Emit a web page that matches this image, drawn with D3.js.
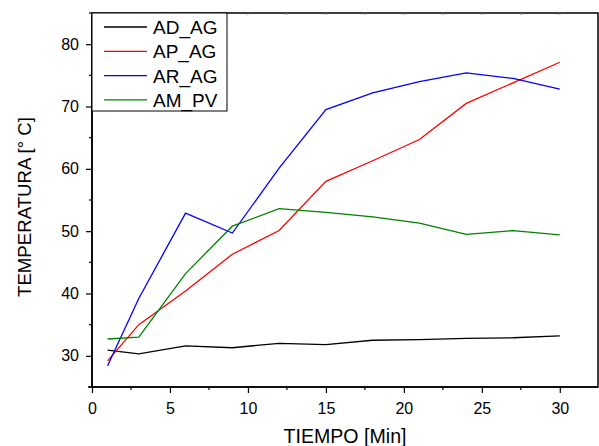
<!DOCTYPE html>
<html>
<head>
<meta charset="utf-8">
<script src="https://cdn.jsdelivr.net/npm/d3@7"></script>
<style>
  body { margin: 0; background: #fff; }
  svg { font-family: "Liberation Sans", Arial, sans-serif; }
</style>
</head>
<body>
<script>
// minutes
var tiempo = [1, 3, 6, 9, 12, 15, 18, 21, 24, 27, 30];

// temperatures (°C)
var adAg = [30.9, 30.3, 31.6, 31.3, 32.0, 31.8, 32.5, 32.6, 32.8, 32.9, 33.2];
var apAg = [29.2, 35.0, 40.4, 46.3, 50.1, 58.0, 61.3, 64.7, 70.5, 73.8, 77.1];
var arAg = [28.4, 39.2, 52.9, 49.7, 60.1, 69.5, 72.2, 74.0, 75.4, 74.5, 72.8];
var amPv = [32.7, 33.0, 43.2, 50.8, 53.6, 53.0, 52.3, 51.3, 49.5, 50.1, 49.4];

var seriesNames = ["AD_AG", "AP_AG", "AR_AG", "AM_PV"];
var seriesColors = ["#000000", "#ff0000", "#0000ff", "#008000"];
var seriesValues = [adAg, apAg, arAg, amPv];

var xTicks = [0, 5, 10, 15, 20, 25, 30];
var yTicks = [30, 40, 50, 60, 70, 80];

var svgWidth = 599, svgHeight = 446;
var margin = { top: 13, right: 1, bottom: 59, left: 92 };
var chartWidth = svgWidth - margin.left - margin.right;
var chartHeight = svgHeight - margin.top - margin.bottom;

var svg = d3.select("body").append("svg")
  .attr("width", svgWidth)
  .attr("height", svgHeight);

var g = svg.append("g")
  .attr("transform", "translate(" + margin.left + "," + margin.top + ")");

var x = d3.scaleLinear().domain([0, 32.45]).range([0, chartWidth]);
var y = d3.scaleLinear().domain([25, 85]).range([chartHeight, 0]);

// minor tick positions (midpoints)
var xMinor = d3.range(2.5, 32.5, 5);
var yMinor = d3.range(25, 86, 10);

// frame
g.append("rect")
  .attr("width", chartWidth)
  .attr("height", chartHeight)
  .attr("fill", "none")
  .attr("stroke", "#000")
  .attr("stroke-width", 1.5);

// bottom axis
var bottom = g.append("g")
  .attr("transform", "translate(0," + chartHeight + ")")
  .call(d3.axisBottom(x).tickValues(xTicks).tickSize(6).tickPadding(10));
bottom.append("g").selectAll("line").data(xMinor).join("line")
  .attr("x1", function(d) { return x(d); })
  .attr("x2", function(d) { return x(d); })
  .attr("y1", 0).attr("y2", 3)
  .attr("stroke", "#000").attr("stroke-width", 1.2);

// left axis
var left = g.append("g")
  .call(d3.axisLeft(y).tickValues(yTicks).tickSize(6).tickPadding(7));
left.append("g").selectAll("line").data(yMinor).join("line")
  .attr("y1", function(d) { return y(d); })
  .attr("y2", function(d) { return y(d); })
  .attr("x1", 0).attr("x2", -3)
  .attr("stroke", "#000").attr("stroke-width", 1.2);

// top axis ticks (inward, small)
g.append("g").selectAll("line").data(xTicks.concat(xMinor)).join("line")
  .attr("x1", function(d) { return x(d); })
  .attr("x2", function(d) { return x(d); })
  .attr("y1", 0).attr("y2", 2)
  .attr("stroke", "#888").attr("stroke-width", 1);

[bottom, left].forEach(function(ax) {
  ax.select(".domain").attr("stroke-width", 1.5);
  ax.selectAll(".tick line").attr("stroke-width", 1.2);
  ax.selectAll(".tick text").attr("font-size", 16).attr("fill", "#000")
    .attr("font-family", "Liberation Sans, Arial, sans-serif");
});
bottom.select(".domain").attr("d", "M-4,0H" + chartWidth);
left.select(".domain").attr("d", "M0,0V" + chartHeight);

// lines
var line = d3.line()
  .x(function(d, i) { return x(tiempo[i]); })
  .y(function(d) { return y(d); });

seriesValues.forEach(function(vals, k) {
  g.append("path")
    .datum(vals)
    .attr("fill", "none")
    .attr("stroke", seriesColors[k])
    .attr("stroke-width", 1.3)
    .attr("d", line);
});

// axis titles
svg.append("text")
  .attr("x", 345)
  .attr("y", 443)
  .attr("text-anchor", "middle")
  .attr("font-size", 20)
  .attr("textLength", 123)
  .attr("lengthAdjust", "spacingAndGlyphs")
  .text("TIEMPO [Min]");

svg.append("text")
  .attr("transform", "translate(30.5,207) rotate(-90)")
  .attr("text-anchor", "middle")
  .attr("font-size", 18.5)
  .attr("textLength", 180)
  .attr("lengthAdjust", "spacingAndGlyphs")
  .text("TEMPERATURA [° C]");

// legend
var legend = g.append("g");
legend.append("rect")
  .attr("x", 0).attr("y", 0)
  .attr("width", 135).attr("height", 98)
  .attr("fill", "#fff")
  .attr("stroke", "#000")
  .attr("stroke-width", 1);

seriesNames.forEach(function(name, k) {
  var ly = 14 + k * 24.3;
  legend.append("line")
    .attr("x1", 12).attr("x2", 55)
    .attr("y1", ly).attr("y2", ly)
    .attr("stroke", seriesColors[k])
    .attr("stroke-width", 1.3);
  legend.append("text")
    .attr("x", 61).attr("y", ly + 7)
    .attr("font-size", 19)
    .text(name);
});
</script>
</body>
</html>
